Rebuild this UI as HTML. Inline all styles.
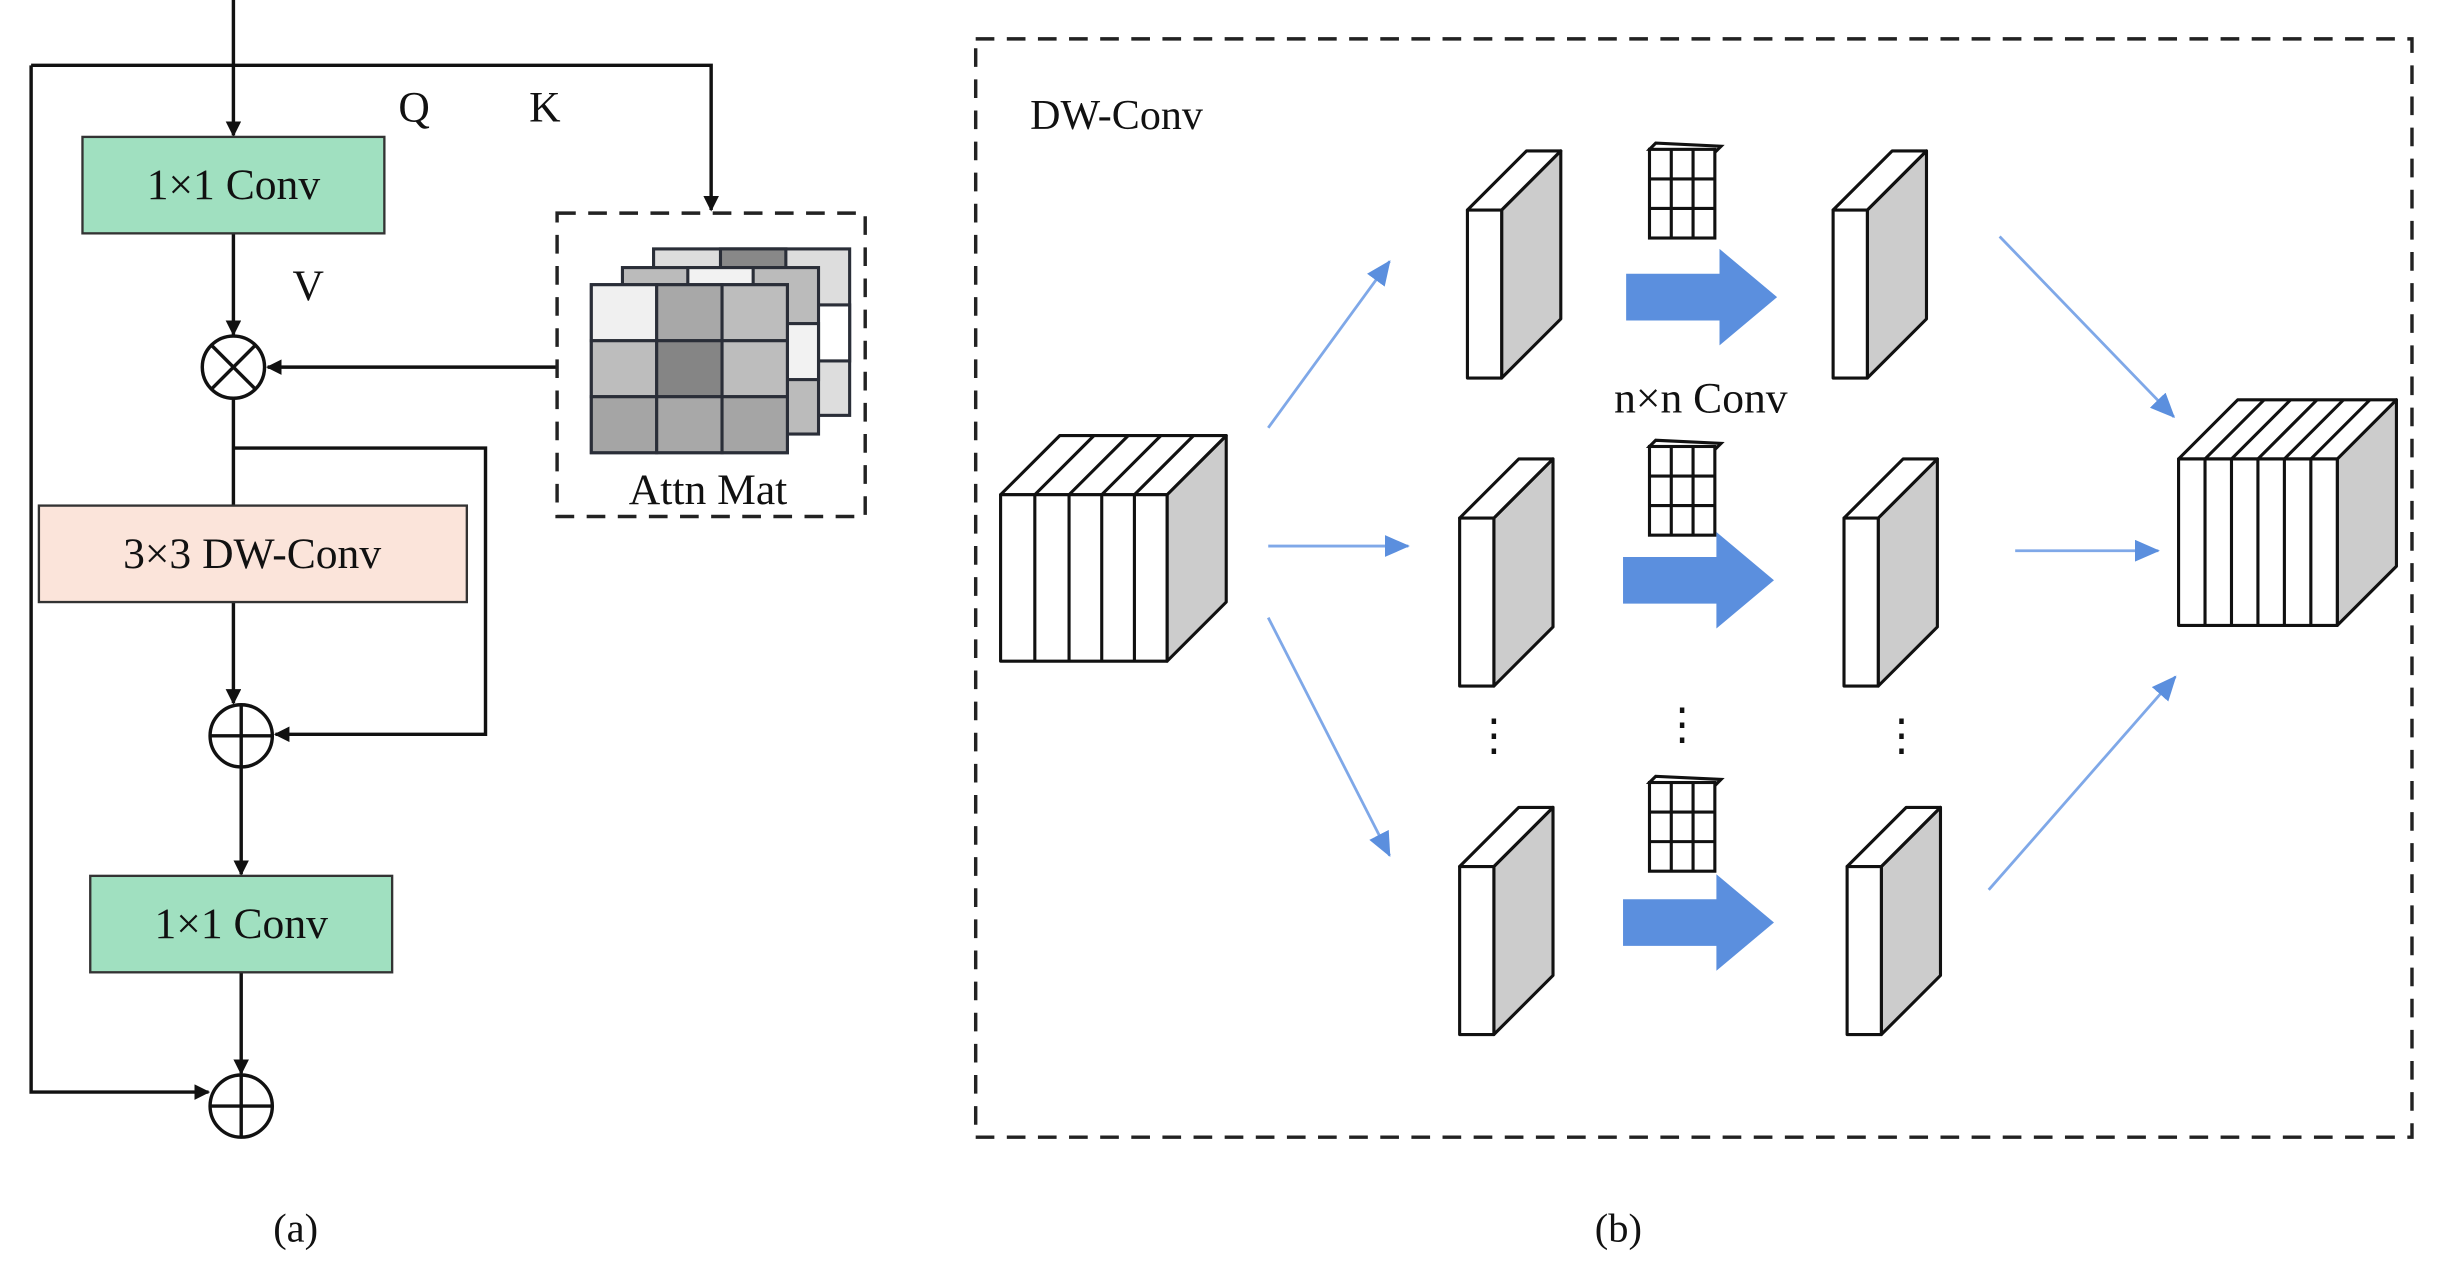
<!DOCTYPE html>
<html><head><meta charset="utf-8"><style>html,body{margin:0;padding:0;background:#fff}svg{display:block}text{font-family:"Liberation Serif",serif;fill:#111}</style></head><body>
<svg width="2440" height="1271" viewBox="0 0 1568 817" preserveAspectRatio="none" xmlns="http://www.w3.org/2000/svg">
<defs>
<marker id="ak" markerWidth="10" markerHeight="10" refX="9" refY="5" orient="auto" markerUnits="userSpaceOnUse"><path d="M0,0 L10,5 L0,10 z" fill="#111"/></marker>
<marker id="ab" markerWidth="16" markerHeight="14" refX="15" refY="7" orient="auto" markerUnits="userSpaceOnUse"><path d="M0,0 L16,7 L0,14 z" fill="#5b8fde"/></marker>
</defs>
<g stroke="#111" stroke-width="2.2" fill="none">
<line x1="150" y1="0" x2="150" y2="87" marker-end="url(#ak)"/>
<polyline points="20,42 457,42 457,135" marker-end="url(#ak)"/>
<polyline points="20,42 20,702 134,702" marker-end="url(#ak)"/>
<line x1="150" y1="150" x2="150" y2="215" marker-end="url(#ak)"/>
<line x1="358" y1="236" x2="172" y2="236" marker-end="url(#ak)"/>
<line x1="150" y1="256" x2="150" y2="325"/>
<polyline points="150,288 312,288 312,472 177,472" marker-end="url(#ak)"/>
<line x1="150" y1="387" x2="150" y2="452" marker-end="url(#ak)"/>
<line x1="155" y1="493" x2="155" y2="562" marker-end="url(#ak)"/>
<line x1="155" y1="625" x2="155" y2="690" marker-end="url(#ak)"/>
<circle cx="150" cy="236" r="20" fill="#fff"/>
<line x1="136" y1="222" x2="164" y2="250"/><line x1="164" y1="222" x2="136" y2="250"/>
<circle cx="155" cy="473" r="20" fill="#fff"/>
<line x1="135" y1="473" x2="175" y2="473"/><line x1="155" y1="453" x2="155" y2="493"/>
<circle cx="155" cy="711" r="20" fill="#fff"/>
<line x1="135" y1="711" x2="175" y2="711"/><line x1="155" y1="691" x2="155" y2="731"/>
</g>
<rect x="53" y="88" width="194" height="62" fill="#a0e0c0" stroke="#333" stroke-width="1.5"/>
<text x="150" y="128" font-size="28" text-anchor="middle">1×1 Conv</text>
<rect x="25" y="325" width="275" height="62" fill="#fbe4da" stroke="#333" stroke-width="1.5"/>
<text x="162" y="365" font-size="28" text-anchor="middle">3×3 DW-Conv</text>
<rect x="58" y="563" width="194" height="62" fill="#a0e0c0" stroke="#333" stroke-width="1.5"/>
<text x="155" y="603" font-size="28" text-anchor="middle">1×1 Conv</text>
<text x="256" y="78" font-size="28">Q</text>
<text x="340" y="78" font-size="28">K</text>
<text x="188" y="193" font-size="28">V</text>
<rect x="358" y="137" width="198" height="195" fill="none" stroke="#222" stroke-width="2.2" stroke-dasharray="12,8"/>
<g stroke="#2a2e38" stroke-width="2">
<rect x="420" y="160" width="126" height="107" fill="#ddd"/>
<rect x="463" y="160" width="42" height="12" fill="#888"/>
<rect x="505" y="196" width="41" height="36" fill="#fff"/>
<rect x="400" y="172" width="126" height="107" fill="#bbb"/>
<rect x="442" y="172" width="42" height="12" fill="#f2f2f2"/>
<rect x="484" y="208" width="42" height="36" fill="#f2f2f2"/>
<rect x="380" y="183" width="126" height="108" fill="#aaa"/>
<rect x="380" y="183" width="42" height="36" fill="#f0f0f0"/>
<rect x="422" y="183" width="42" height="36" fill="#a8a8a8"/>
<rect x="464" y="183" width="42" height="36" fill="#bdbdbd"/>
<rect x="380" y="219" width="42" height="36" fill="#bdbdbd"/>
<rect x="422" y="219" width="42" height="36" fill="#858585"/>
<rect x="464" y="219" width="42" height="36" fill="#bdbdbd"/>
<rect x="380" y="255" width="42" height="36" fill="#a5a5a5"/>
<rect x="422" y="255" width="42" height="36" fill="#a8a8a8"/>
<rect x="464" y="255" width="42" height="36" fill="#a5a5a5"/>
</g>
<text x="455" y="324" font-size="28" text-anchor="middle">Attn Mat</text>
<text x="190" y="798" font-size="26" text-anchor="middle">(a)</text>
<text x="1040" y="798" font-size="26" text-anchor="middle">(b)</text>
<rect x="627" y="25" width="923" height="706" fill="none" stroke="#222" stroke-width="2.2" stroke-dasharray="12,8"/>
<text x="662" y="83" font-size="27">DW-Conv</text>
<g stroke="#111" stroke-width="2" stroke-linejoin="round">
<!-- input cube -->
<polygon points="750,318 788,280 788,387 750,425" fill="#ccc"/>
<polygon points="643,318 681,280 788,280 750,318" fill="#fff"/>
<rect x="643" y="318" width="107" height="107" fill="#fff"/>
<path d="M665,318V425M687,318V425M708,318V425M729,318V425M665,318L703,280M687,318L725,280M708,318L746,280M729,318L767,280" fill="none"/>
<!-- output cube -->
<polygon points="1502,295 1540,257 1540,364 1502,402" fill="#ccc"/>
<polygon points="1400,295 1438,257 1540,257 1502,295" fill="#fff"/>
<rect x="1400" y="295" width="102" height="107" fill="#fff"/>
<path d="M1417,295V402M1434,295V402M1451,295V402M1468,295V402M1485,295V402M1417,295L1455,257M1434,295L1472,257M1451,295L1489,257M1468,295L1506,257M1485,295L1523,257" fill="none"/>
</g>
<g stroke="#111" stroke-width="2" stroke-linejoin="round">
<g transform="translate(943,135)"><polygon points="22,0 60,-38 60,70 22,108" fill="#ccc"/><polygon points="0,0 38,-38 60,-38 22,0" fill="#fff"/><rect x="0" y="0" width="22" height="108" fill="#fff"/></g>
<g transform="translate(1178,135)"><polygon points="22,0 60,-38 60,70 22,108" fill="#ccc"/><polygon points="0,0 38,-38 60,-38 22,0" fill="#fff"/><rect x="0" y="0" width="22" height="108" fill="#fff"/></g>
<g transform="translate(938,333)"><polygon points="22,0 60,-38 60,70 22,108" fill="#ccc"/><polygon points="0,0 38,-38 60,-38 22,0" fill="#fff"/><rect x="0" y="0" width="22" height="108" fill="#fff"/></g>
<g transform="translate(1185,333)"><polygon points="22,0 60,-38 60,70 22,108" fill="#ccc"/><polygon points="0,0 38,-38 60,-38 22,0" fill="#fff"/><rect x="0" y="0" width="22" height="108" fill="#fff"/></g>
<g transform="translate(938,557)"><polygon points="22,0 60,-38 60,70 22,108" fill="#ccc"/><polygon points="0,0 38,-38 60,-38 22,0" fill="#fff"/><rect x="0" y="0" width="22" height="108" fill="#fff"/></g>
<g transform="translate(1187,557)"><polygon points="22,0 60,-38 60,70 22,108" fill="#ccc"/><polygon points="0,0 38,-38 60,-38 22,0" fill="#fff"/><rect x="0" y="0" width="22" height="108" fill="#fff"/></g>
</g>
<g stroke="#111" stroke-width="2" fill="#fff">
<g transform="translate(1060,96)"><polygon points="0,0 4,-4 46,-2 42,2"/><rect x="0" y="0" width="42" height="57"/><path d="M14,0V57M28,0V57M0,19H42M0,38H42" fill="none"/></g>
<g transform="translate(1060,287)"><polygon points="0,0 4,-4 46,-2 42,2"/><rect x="0" y="0" width="42" height="57"/><path d="M14,0V57M28,0V57M0,19H42M0,38H42" fill="none"/></g>
<g transform="translate(1060,503)"><polygon points="0,0 4,-4 46,-2 42,2"/><rect x="0" y="0" width="42" height="57"/><path d="M14,0V57M28,0V57M0,19H42M0,38H42" fill="none"/></g>
</g>
<g fill="#5b8fde">
<polygon points="1045,176 1105,176 1105,160 1142,191 1105,222 1105,206 1045,206"/>
<polygon points="1043,358 1103,358 1103,342 1140,373 1103,404 1103,388 1043,388"/>
<polygon points="1043,578 1103,578 1103,562 1140,593 1103,624 1103,608 1043,608"/>
</g>
<text x="1093" y="265" font-size="28" text-anchor="middle">n×n Conv</text>
<g font-size="28" text-anchor="middle"><text x="960" y="482">⋮</text><text x="1081" y="475">⋮</text><text x="1222" y="482">⋮</text></g>
<g stroke="#7fa8e8" stroke-width="1.8" fill="none">
<line x1="815" y1="275" x2="893" y2="168" marker-end="url(#ab)"/>
<line x1="815" y1="351" x2="905" y2="351" marker-end="url(#ab)"/>
<line x1="815" y1="397" x2="893" y2="550" marker-end="url(#ab)"/>
<line x1="1285" y1="152" x2="1397" y2="268" marker-end="url(#ab)"/>
<line x1="1295" y1="354" x2="1387" y2="354" marker-end="url(#ab)"/>
<line x1="1278" y1="572" x2="1398" y2="435" marker-end="url(#ab)"/>
</g>
</svg>
</body></html>
